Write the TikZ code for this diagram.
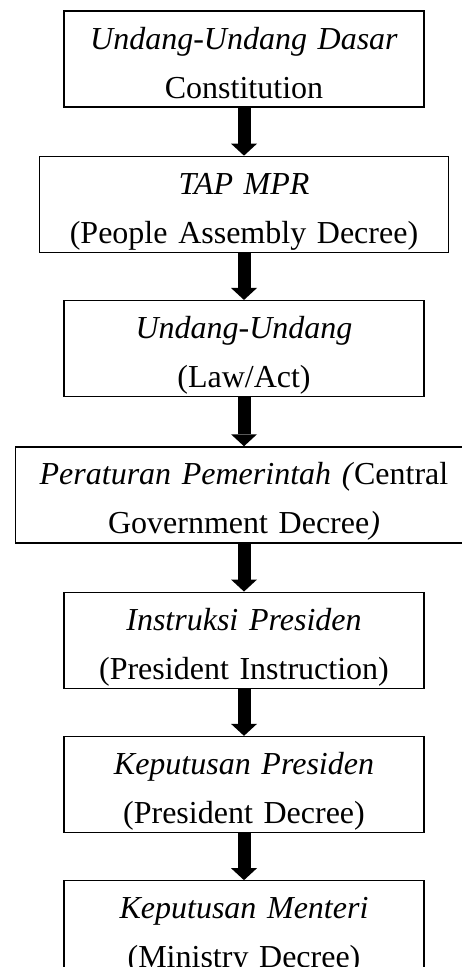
\documentclass[tikz,border=0pt]{standalone}
\usepackage{fontspec}
\setmainfont{Liberation Serif}
\usepackage{tikz}
\usetikzlibrary{positioning,arrows.meta}

\begin{document}
\begin{tikzpicture}
    [ x = 1pt, y = 1pt
    , law/.style =
      { draw, line width=1.3pt, inner sep=0pt, align=center
      , text width=360pt, text height=38pt, text depth=58pt
      , font=\fontsize{32}{49}\selectfont }
    , wide/.style =
      { text width=#1 }
    , flow/.style =
      { line width=13pt, -{Triangle[width=26pt,length=12pt,line width=0pt]} }
    ]
    \useasboundingbox (0,0) rectangle (461,-967);

    \node [law] (uud) at (244,-59) {\textit{Undang-Undang Dasar}\\Constitution};
    \node [law,wide=409pt] (tap) [below=48pt of uud] {\textit{TAP MPR}\\(People Assembly Decree)};
    \node [law] (uu) [below=47pt of tap] {\textit{Undang-Undang}\\(Law/Act)};
    \node [law,wide=457pt] (pp) [below=49pt of uu] {\textit{Peraturan Pemerintah (}Central\\Government Decree\textit{)}};
    \node [law] (inpres) [below=48pt of pp] {\textit{Instruksi Presiden}\\(President Instruction)};
    \node [law] (keppres) [below=47pt of inpres] {\textit{Keputusan Presiden}\\(President Decree)};
    \node [law] (kepmen) [below=47pt of keppres] {\textit{Keputusan Menteri}\\(Ministry Decree)};

    \draw [flow] (uud) -- (tap);
    \draw [flow] (tap) -- (uu);
    \draw [flow] (uu) -- (pp);
    \draw [flow] (pp) -- (inpres);
    \draw [flow] (inpres) -- (keppres);
    \draw [flow] (keppres) -- (kepmen);
  \end{tikzpicture}
\end{document}
